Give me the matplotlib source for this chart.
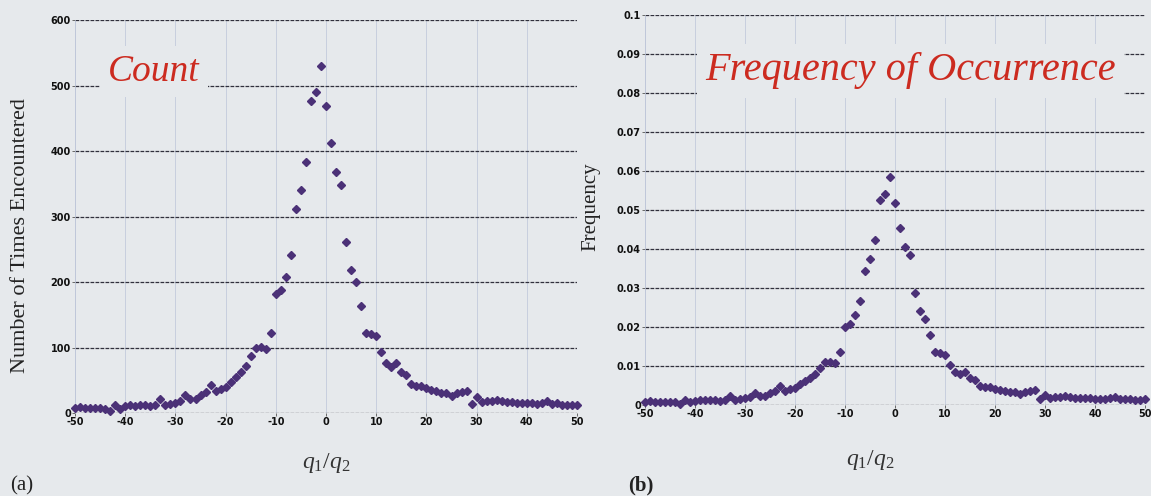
import numpy as np
import matplotlib
matplotlib.use("Agg")
import matplotlib.pyplot as plt
from matplotlib.font_manager import FontProperties
from matplotlib.ticker import FuncFormatter

# histogram of the charge ratio q1/q2, one bin per integer
ratio = np.arange(-50, 51)
count = np.array([
    8, 9, 7, 8, 8, 8, 6, 3, 12, 6,            # -50 .. -41
    10, 12, 11, 12, 12, 10, 12, 22, 12, 14,   # -40 .. -31
    16, 18, 28, 22, 21, 27, 32, 43, 33, 37,   # -30 .. -21
    40, 48, 55, 62, 72, 87, 99, 101, 97, 122, # -20 .. -11
    182, 188, 208, 241, 312, 340, 383, 476, 490, 530,  # -10 .. -1
    469,                                        # 0
    412, 368, 348, 261, 218, 200, 163, 122, 121, 117,  # 1 .. 10
    93, 76, 71, 76, 63, 58, 45, 42, 41, 38,    # 11 .. 20
    35, 33, 30, 31, 26, 30, 32, 34, 14, 24,    # 21 .. 30
    17, 18, 19, 20, 18, 17, 17, 16, 16, 15,    # 31 .. 40
    15, 14, 16, 19, 14, 15, 13, 12, 12, 13,    # 41 .. 50
])
n_total = 9060  # all samples, including those outside +/-50
freq = count / n_total

x_ticks = np.arange(-50, 51, 10)
count_ticks = np.arange(0, 601, 100)
freq_ticks = np.arange(0, 0.1001, 0.01)

paper = "#e6e9ec"
dot = "#4b3177"
title_red = "#cc2b20"

plt.rcParams["axes.unicode_minus"] = False
plt.rcParams["mathtext.fontset"] = "custom"
plt.rcParams["mathtext.it"] = "Liberation Serif:italic"
plt.rcParams["mathtext.rm"] = "Liberation Serif"

fig = plt.figure(figsize=(11.51, 4.96), dpi=100, facecolor=paper)
ax1 = fig.add_axes([0.0652, 0.1673, 0.4361, 0.7923])
ax2 = fig.add_axes([0.5604, 0.1835, 0.4344, 0.7863])

tick_font = FontProperties(family="DejaVu Sans", weight="heavy", size=7)


def style(ax, yticks, ymax):
    ax.set_facecolor(paper)
    ax.set_xlim(-50, 50)
    ax.set_ylim(0, ymax)
    ax.set_xticks(x_ticks)
    ax.set_yticks(yticks)
    ax.yaxis.grid(True, color="#30303c", linestyle=(0, (3, 1)), linewidth=0.9)
    ax.xaxis.grid(True, color="#bcc4d8", linewidth=0.5)
    ax.set_axisbelow(True)
    for s in ["top", "right", "bottom"]:
        ax.spines[s].set_visible(False)
    ax.spines["left"].set_color("#bcc4d8")
    ax.spines["left"].set_linewidth(0.5)
    ax.tick_params(length=2, width=0.6, color="#555555", pad=1, labelcolor="#111111")


style(ax1, count_ticks, 600)
style(ax2, freq_ticks, 0.1)
ax2.yaxis.set_major_formatter(FuncFormatter(lambda v, p: "0" if v == 0 else "%g" % round(v, 2)))
for ax in (ax1, ax2):
    for lab in ax.get_xticklabels() + ax.get_yticklabels():
        lab.set_fontproperties(tick_font)

ax1.plot(ratio, count, "D", color=dot, markersize=4.5, clip_on=False, zorder=3)
ax2.plot(ratio, freq, "D", color=dot, markersize=4.2, clip_on=False, zorder=3)

title_box = dict(facecolor=paper, edgecolor="none", pad=6)
ax1.text(0.066, 0.845, "Count", transform=ax1.transAxes, fontsize=27,
         family="Liberation Serif", style="italic", color=title_red,
         va="baseline", bbox=title_box, zorder=4)
ax2.text(0.12, 0.833, "Frequency of Occurrence", transform=ax2.transAxes, fontsize=29,
         family="Liberation Serif", style="italic", color=title_red,
         va="baseline", bbox=title_box, zorder=4)

serif = "Liberation Serif"
fig.text(0.018, 0.526, "Number of Times Encountered", rotation=90, ha="center", va="center",
         fontsize=16, family=serif, color="#222222")
fig.text(0.513, 0.583, "Frequency", rotation=90, ha="center", va="center",
         fontsize=15, family=serif, color="#222222")
fig.text(0.283, 0.066, r"$q_1/q_2$", ha="center", va="center", fontsize=17, color="#333333")
fig.text(0.756, 0.072, r"$q_1/q_2$", ha="center", va="center", fontsize=17, color="#333333")
fig.text(0.009, 0.012, "(a)", fontsize=15, family=serif, color="#222222")
fig.text(0.546, 0.012, "(b)", fontsize=15, family=serif, weight="bold", color="#222222")

fig.savefig("out.png", dpi=100, facecolor=paper)
